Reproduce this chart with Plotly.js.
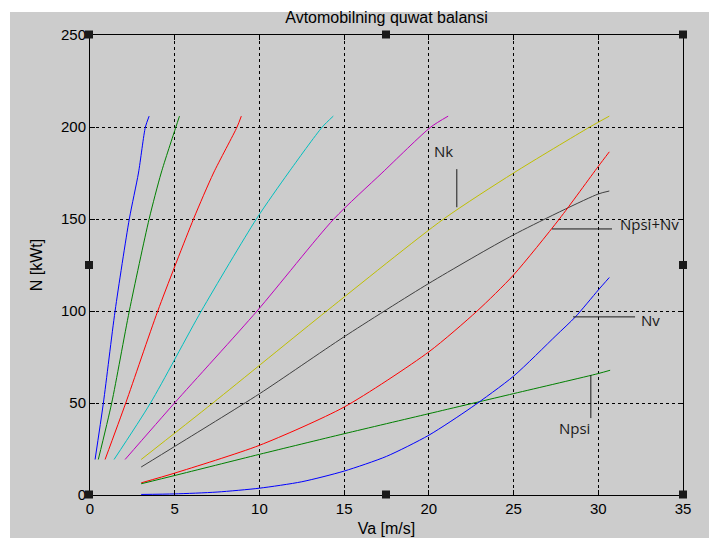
<!DOCTYPE html>
<html>
<head>
<meta charset="utf-8">
<script src="https://cdn.plot.ly/plotly-3.0.1.min.js"></script>
<style>html,body{margin:0;padding:0;background:#fff;}#chart{width:709px;height:538px;}</style>
</head>
<body>
<div id="chart"></div>
<script>
// Nk curves per gear: shared power levels (kWt), speeds read for each gear (m/s)
var nkLevels = [19.3, 50, 100, 150, 175, 200, 205.9];
var gear1X = [0.30, 0.79, 1.48, 2.32, 2.86, 3.27, 3.49];
var gear2X = [0.49, 1.28, 2.32, 3.49, 4.20, 5.07, 5.28];
var gear3X = [0.89, 2.11, 4.00, 6.11, 7.29, 8.68, 8.93];
var gear4X = [1.42, 3.57, 6.57, 9.82, 11.70, 13.71, 14.36];
var gear5X = [2.07, 4.99, 9.86, 14.39, 17.23, 20.12, 21.14];
var nkX    = [3.02, 7.25, 13.97, 20.87, 25.00, 29.50, 30.65];

// gray curve
var grayX = [3.02, 5, 10, 15, 20, 25, 30, 30.65];
var grayY = [15.2, 26.4, 55, 86, 115, 141.4, 163.6, 165.2];

// Npsi+Nv
var sumX = [3.02, 5, 10, 15, 20, 22.85, 25, 27.7, 30, 30.65];
var sumY = [6.6, 11.9, 27, 47.8, 77.8, 100, 119.6, 150, 178.6, 186.5];

// Npsi
var psiX = [3.02, 5, 10, 15, 20, 25, 30, 30.7];
var psiY = [6.1, 10.6, 22.1, 33.3, 44.2, 55.1, 66, 67.8];

// Nv
var nvX = [3.02, 5, 7.5, 10, 12.5, 15, 17.5, 20, 22.5, 25, 27.5, 28.66, 30, 30.65];
var nvY = [0.3, 0.6, 1.6, 3.7, 7.2, 13, 21, 32.5, 47.5, 64.6, 86.6, 96.9, 111.4, 118.2];

var colors = ['#0000ff', '#008000', '#ff0000', '#00bfbf', '#bf00bf', '#bfbf00', '#404040'];

function tr(x, y, c) {
  return {x: x, y: y, type: 'scatter', mode: 'lines',
          line: {color: c, width: 1, shape: 'spline', smoothing: 0.7},
          hoverinfo: 'skip', showlegend: false};
}

var data = [
  tr(gear1X, nkLevels, colors[0]),
  tr(gear2X, nkLevels, colors[1]),
  tr(gear3X, nkLevels, colors[2]),
  tr(gear4X, nkLevels, colors[3]),
  tr(gear5X, nkLevels, colors[4]),
  tr(nkX, nkLevels, colors[5]),
  tr(grayX, grayY, colors[6]),
  tr(sumX, sumY, colors[2]),
  tr(psiX, psiY, colors[1]),
  tr(nvX, nvY, colors[0])
];

var W = 709, H = 538, ML = 90, MR = 26, MT = 35, MB = 43;
var PW = W - ML - MR, PH = H - MT - MB;
function px2x(p) { return (p - ML) / PW; }
function py2y(p) { return (H - MB - p) / PH; }

var shapes = [];
// gray figure background with thin white border at top/left
shapes.push({type: 'rect', xref: 'paper', yref: 'paper', layer: 'below',
  x0: px2x(10), x1: px2x(W + 2), y0: py2y(H + 2), y1: py2y(12),
  fillcolor: '#cccccc', line: {width: 0}});

// selection handles
var handles = [[89, 34.5], [386, 34.5], [683, 34.5], [89, 265], [683, 265], [89, 494.5], [386, 494.5], [683, 494.5]];
handles.forEach(function (h) {
  shapes.push({type: 'rect', xref: 'paper', yref: 'paper', layer: 'above',
    x0: px2x(h[0] - 4), x1: px2x(h[0] + 4), y0: py2y(h[1] + 4), y1: py2y(h[1] - 4),
    fillcolor: '#1a1a1a', line: {width: 0}});
});

// label pointer lines
var lineStyle = {color: '#1a1a1a', width: 1};
shapes.push({type: 'line', xref: 'x', yref: 'y', x0: 21.65, x1: 21.65, y0: 177.1, y1: 156.4, line: lineStyle});
shapes.push({type: 'line', xref: 'x', yref: 'y', x0: 27.27, x1: 30.81, y0: 144.6, y1: 144.6, line: lineStyle});
shapes.push({type: 'line', xref: 'x', yref: 'y', x0: 28.51, x1: 32.17, y0: 96.8, y1: 96.8, line: lineStyle});
shapes.push({type: 'line', xref: 'x', yref: 'y', x0: 29.56, x1: 29.56, y0: 65.1, y1: 41.8, line: lineStyle});

var labFont = {family: 'Open Sans, Noto Sans, sans-serif', size: 15, color: '#1a1a1a'};
function lab(t, x, y, xa) {
  return {text: t, x: x, y: y, xref: 'x', yref: 'y', showarrow: false,
          xanchor: xa, yanchor: 'middle', font: labFont};
}
var annotations = [
  lab('Nk', 20.84, 187, 'center'),
  lab('Npsi+Nv', 31.17, 147.3, 'left'),
  lab('Nv', 32.41, 95.0, 'left'),
  lab('Npsi', 28.57, 36.2, 'center')
];

var axFont = {family: 'Liberation Sans, Arial, sans-serif', size: 15, color: '#000'};
var layout = {
  width: W, height: H,
  margin: {l: ML, r: MR, t: MT, b: MB},
  paper_bgcolor: '#ffffff',
  plot_bgcolor: '#ffffff',
  font: axFont,
  showlegend: false,
  title: {text: 'Avtomobilning quwat balansi', x: 0.5, xref: 'paper',
          y: 1 - 17 / H, yref: 'container', yanchor: 'middle',
          font: {family: 'Liberation Sans, Arial, sans-serif', size: 16, color: '#000'}},
  xaxis: {range: [0, 35], dtick: 5, tick0: 0, showline: true, linecolor: '#000', linewidth: 1,
          mirror: 'ticks', ticks: 'inside', ticklen: 5, tickcolor: '#000',
          showgrid: true, gridcolor: '#000', gridwidth: 1, griddash: '3px,3px', zeroline: false,
          tickfont: axFont,
          title: {text: 'Va [m/s]', standoff: 6, font: {family: 'Liberation Sans, Arial, sans-serif', size: 16, color: '#000'}}},
  yaxis: {range: [0, 250], dtick: 50, tick0: 0, showline: true, linecolor: '#000', linewidth: 1,
          mirror: 'ticks', ticks: 'inside', ticklen: 5, tickcolor: '#000',
          showgrid: true, gridcolor: '#000', gridwidth: 1, griddash: '3px,3px', zeroline: false,
          tickfont: axFont,
          title: {text: 'N [kWt]', standoff: 14, font: {family: 'Liberation Sans, Arial, sans-serif', size: 16, color: '#000'}}},
  shapes: shapes,
  annotations: annotations
};

Plotly.newPlot('chart', data, layout, {displayModeBar: false, staticPlot: true});
</script>
</body>
</html>
